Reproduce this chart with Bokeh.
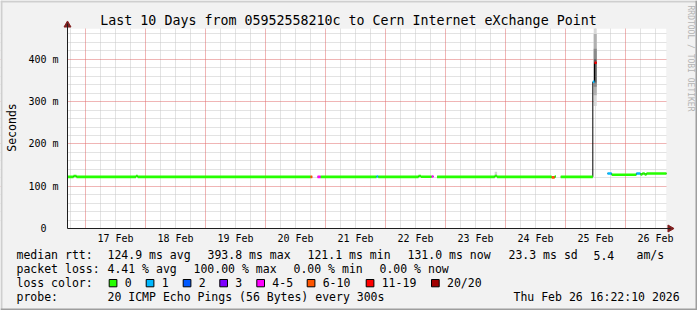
import math
import numpy as np
from bokeh.plotting import figure
from bokeh.models import FixedTicker, Grid, Label, BoxAnnotation, ColumnDataSource, Range1d
from bokeh.embed import file_html
from bokeh.resources import INLINE

# ---------------- data (x in days since 16 Feb 00:00, y in ms) ----------------
day_label_pos = [1.5, 2.5, 3.5, 4.5, 5.5, 6.5, 7.5, 8.5, 9.5, 10.5]
day_labels = ["17 Feb", "18 Feb", "19 Feb", "20 Feb", "21 Feb",
              "22 Feb", "23 Feb", "24 Feb", "25 Feb", "26 Feb"]
y_tick_vals = [0, 100, 200, 300, 400]
y_tick_labels = ["0\u00a0\u00a0", "100 m", "200 m", "300 m", "400 m"]

seg_start = [0.70, 0.80, 0.85, 1.84, 1.87, 4.75, 4.867, 4.92, 5.85, 5.88, 6.55, 6.59, 6.77,
             6.86, 7.82, 7.86, 8.77, 8.82, 8.92, 9.455, 9.483, 9.70, 9.77, 10.18, 10.25,
             10.28, 10.32, 10.35]
seg_end = [0.80, 0.85, 1.84, 1.87, 4.75, 4.78, 4.92, 5.85, 5.88, 6.55, 6.59, 6.77, 6.80,
           7.82, 7.86, 8.77, 8.82, 8.84, 9.455, 9.483, 9.52, 9.77, 10.18, 10.25, 10.28,
           10.32, 10.35, 10.683]
seg_median = [122, 124, 122, 124, 122, 122, 122, 122, 123, 122, 124, 122.5, 123,
              122, 124, 122, 121, 123, 122, 347, 392, 130, 127, 130, 128,
              130, 128, 130]
seg_loss = [0, 0, 0, 0, 0, 7, 4, 0, 1, 0, 0, 0, 4,
            0, 0, 0, 7, 0, 0, 1, 12, 1, 0, 1, 0,
            0, 0, 0]

smoke_start = [7.82, 9.47, 9.47, 9.47, 9.475]
smoke_end = [7.86, 9.52, 9.52, 9.52, 9.515]
smoke_lo = [122, 290, 315, 335, 345]
smoke_hi = [134, 473, 460, 425, 400]
smoke_shade = ["#d2d2d2", "#d8d8d8", "#b0b0b0", "#8a8a8a", "#5a5a5a"]

loss_names = ["0", "1", "2", "3", "4-5", "6-10", "11-19", "20/20"]
loss_colors = ["#26ff00", "#00b8ff", "#0059ff", "#7e00ff", "#ff00ff", "#ff5500", "#ff0000", "#a00000"]

rtt_stats = ["124.9 ms avg", "393.8 ms max", "121.1 ms min", "131.0 ms now", "23.3 ms sd", "5.4", "am/s"]
loss_stats = ["4.41 % avg", "100.00 % max", "0.00 % min", "0.00 % now"]
probe_text = "20 ICMP Echo Pings (56 Bytes) every 300s"
stamp_text = "Thu Feb 26 16:22:10 2026"
title_text = "Last 10 Days from 05952558210c to Cern Internet eXchange Point"

X0, X1 = 0.7, 10.683      # plotted time span
Y0, Y1 = 0.0, 473.0       # plotted value span


def loss_class(n):
    if n <= 3:
        return n
    if n <= 5:
        return 4
    if n <= 10:
        return 5
    if n <= 19:
        return 6
    return 7


# ---------------- layout: frame covers whole canvas ----------------
W, H = 697, 310
PL, PR, PT, PB = 67, 666, 28, 228   # plot area on canvas (px)
MONO = "DejaVu Sans Mono"
kx = (X1 - X0) / (PR - PL)
ky = (Y1 - Y0) / (PB - PT)
xr = Range1d(X0 - PL * kx, X1 + (W - PR) * kx)
yr = Range1d(Y0 - (H - PB) * ky, Y1 + PT * ky)


def dx(xc):
    return X0 + (xc - PL) * kx


def dy(yc):
    return Y0 + (PB - yc) * ky


p = figure(width=W, height=H, x_range=xr, y_range=yr,
           output_backend="svg", toolbar_location=None,
           min_border=0, min_border_left=0, min_border_right=0, min_border_top=0, min_border_bottom=0,
           background_fill_color="#f2f2f2", border_fill_color="#f2f2f2")
p.outline_line_color = None

# axes drawn at fixed data locations inside the frame
p.xaxis.fixed_location = Y0
p.yaxis.fixed_location = X0
p.xaxis.bounds = (X0, dx(670))
p.yaxis.bounds = (Y0, dy(23))
p.xaxis.ticker = FixedTicker(ticks=day_label_pos)
p.xaxis.major_label_overrides = {v: s for v, s in zip(day_label_pos, day_labels)}
p.yaxis.ticker = FixedTicker(ticks=y_tick_vals)
p.yaxis.major_label_overrides = {v: s for v, s in zip(y_tick_vals, y_tick_labels)}
for ax in (p.xaxis[0], p.yaxis[0]):
    ax.axis_line_color = "#1f1f1f"
    ax.axis_line_width = 1
    ax.major_tick_line_color = None
    ax.minor_tick_line_color = None
    ax.major_tick_out = 0
    ax.major_tick_in = 0
    ax.minor_tick_out = 0
    ax.minor_tick_in = 0
    ax.major_label_text_font = MONO
    ax.major_label_text_font_size = "10px"
    ax.major_label_text_color = "black"
p.xaxis.major_label_standoff = 4
p.yaxis.major_label_standoff = 9


def box(l, r, t, b, fill, line=None, level="annotation"):
    return BoxAnnotation(left=l, right=r, top=H - t, bottom=H - b,
                         left_units="screen", right_units="screen",
                         top_units="screen", bottom_units="screen",
                         fill_color=fill, fill_alpha=1.0, level=level,
                         line_color=line, line_width=1, line_alpha=1.0 if line else 0.0)


# plot area, grids, and covers outside the plot area
plot_bg = box(PL, PR, PT, PB, "white", level="underlay")
p.xgrid.ticker = FixedTicker(ticks=list(range(1, 11)))
p.ygrid.ticker = FixedTicker(ticks=[100, 200, 300, 400])
for g in (p.xgrid[0], p.ygrid[0]):
    g.grid_line_color = "#e06a6a"
    g.grid_line_alpha = 1.0
    g.grid_line_dash = "1 1"
    g.grid_line_width = 1
minor_x = Grid(dimension=0, ticker=FixedTicker(ticks=[t for t in np.arange(0.75, 10.7, 0.25) if abs(t - round(t)) > 1e-6]))
minor_y = Grid(dimension=1, ticker=FixedTicker(ticks=[t for t in range(20, 473, 20) if t % 100 != 0]))
for g in (minor_x, minor_y):
    g.grid_line_color = "#c6c6c6"
    g.grid_line_alpha = 1.0
    g.grid_line_dash = "1 1"
    g.grid_line_width = 1
covers = [box(0, W, 0, PT, "#f2f2f2", level="underlay"),
          box(0, W, PB, H, "#f2f2f2", level="underlay"),
          box(0, PL, 0, H, "#f2f2f2", level="underlay"),
          box(PR, W, 0, H, "#f2f2f2", level="underlay")]
p.center = [plot_bg, minor_x, minor_y] + list(p.center) + covers

# smoke
p.quad(left=smoke_start, right=smoke_end, bottom=smoke_lo, top=smoke_hi,
       fill_color=smoke_shade, line_color=None)

# thin black median line with gaps
bx, by = [], []
prev_end = None
for s, e, m in zip(seg_start, seg_end, seg_median):
    if prev_end is not None and abs(s - prev_end) > 1e-9:
        bx.append(float("nan"))
        by.append(float("nan"))
    bx += [s, e]
    by += [m, m]
    prev_end = e
p.line(bx, by, line_color="black", line_width=1)

# loss-coloured median
src = ColumnDataSource(dict(x0=seg_start, x1=seg_end, y=seg_median,
                            c=[loss_colors[loss_class(n)] for n in seg_loss]))
p.segment(x0="x0", y0="y", x1="x1", y1="y", line_color="c", line_width=2.6, line_cap="butt", source=src)

# axis arrows
p.scatter([X0], [dy(24.5)], marker="triangle", size=7, fill_color="#801f1f", line_color="#801f1f")
p.scatter([dx(669.5)], [Y0], marker="triangle", size=7, angle=-math.pi / 2,
          fill_color="#801f1f", line_color="#801f1f")


# ---------------- texts (canvas px) ----------------
def lab(xc, yc, text, size="11.5px", align="left", color="black", angle=0.0, baseline="middle"):
    p.add_layout(Label(x=xc, y=H - yc, x_units="screen", y_units="screen", text=text,
                       text_font=MONO, text_font_size=size, text_color=color,
                       text_align=align, text_baseline=baseline, angle=angle))


lab(348, 19.5, title_text, size="13.3px", align="center")
lab(11, 127, "Seconds", size="11.5px", align="center", angle=math.pi / 2)
lab(690, 5, "RRDTOOL / TOBI OETIKER", size="8px", align="left", color="#b4b4b4", angle=-math.pi / 2)

r1, r2, r3, r4 = 254.5, 268.3, 282.3, 296.3
lab(16, r1, "median rtt:")
for xc, t in zip([107, 207, 307, 407, 508, 593, 636], rtt_stats):
    lab(xc, r1, t)
lab(16, r2, "packet loss:")
for xc, t in zip([107, 193, 293, 379], loss_stats):
    lab(xc, r2, t)
lab(16, r3, "loss color:")
for bl, name, col in zip([108.7, 145.7, 182.7, 219.3, 256.3, 306.7, 365.7, 431], loss_names, loss_colors):
    p.add_layout(box(bl, bl + 7.7, 279, 286.3, col, "black"))
    lab(bl + 15.5, r3, name)
lab(16, r4, "probe:")
lab(107, r4, probe_text)
lab(513, r4, stamp_text)

# 3D frame of the image
for b in (box(0, W, 0, 2, "#cfcfcf"), box(0, 2, 0, H, "#cfcfcf"),
          box(0, W, H - 2, H, "#9e9e9e"), box(W - 2, W, 0, H, "#9e9e9e")):
    p.add_layout(b)

open("out.html", "w").write(file_html(p, INLINE))
